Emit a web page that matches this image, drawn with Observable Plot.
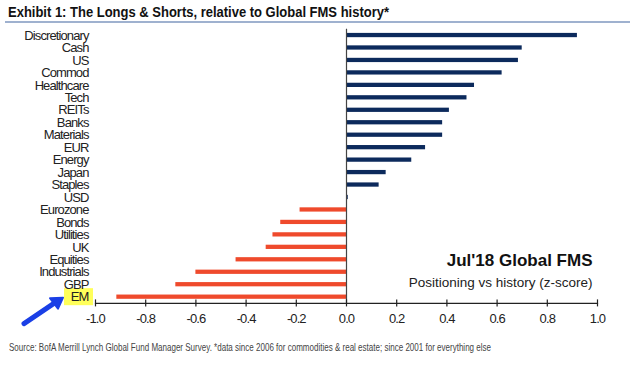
<!DOCTYPE html>
<html>
<head>
<meta charset="utf-8">
<script src="https://cdn.jsdelivr.net/npm/d3@7"></script>
<script src="https://cdn.jsdelivr.net/npm/@observablehq/plot@0.6"></script>
<style>
  html, body { margin: 0; padding: 0; background: #fff; }
  #wrap { position: relative; width: 640px; height: 370px; overflow: hidden; font-family: "Liberation Sans", Arial, sans-serif; }
  #title { position: absolute; left: 8px; top: 3px; font-weight: bold; font-size: 15px; color: #111; white-space: nowrap; transform-origin: left top; }
  #rule { position: absolute; left: 5px; top: 21px; width: 625px; height: 2px; background: #9fb1cf; }
  #caption { position: absolute; left: 9px; top: 341px; font-size: 11px; color: #444; white-space: nowrap; transform-origin: left top; }
  #chart { position: absolute; left: 0; top: 0; }
</style>
</head>
<body>
<div id="wrap">
  <div id="chart"></div>
  <div id="title">Exhibit 1:  The Longs &amp; Shorts, relative to Global FMS history*</div>
  <div id="rule"></div>
  <div id="caption">Source:  BofA Merrill Lynch Global Fund Manager Survey. *data since 2006 for commodities &amp; real estate; since 2001  for everything else</div>
</div>
<script>
const categories = ["Discretionary","Cash","US","Commod","Healthcare","Tech","REITs","Banks","Materials","EUR","Energy","Japan","Staples","USD","Eurozone","Bonds","Utilities","UK","Equities","Industrials","GBP","EM"];
const zscores = [0.92,0.70,0.685,0.62,0.51,0.48,0.41,0.383,0.383,0.315,0.26,0.158,0.13,0.007,-0.185,-0.262,-0.293,-0.32,-0.44,-0.60,-0.68,-0.915];
const xTicks = [-1.0,-0.8,-0.6,-0.4,-0.2,0.0,0.2,0.4,0.6,0.8,1.0];
const highlight = "EM";

const data = categories.map((c, i) => ({category: c, value: zscores[i]}));

const NAVY = "#0c2a5c", RED = "#ef4a2c";
const font = "Liberation Sans, Arial, sans-serif";

const plot = Plot.plot({
  width: 640,
  height: 370,
  marginTop: 28.8,
  marginBottom: 67.1,
  marginLeft: 95,
  marginRight: 43,
  style: {fontFamily: font, background: "transparent", overflow: "visible"},
  x: {domain: [-1, 1], ticks: xTicks, label: null},
  y: {domain: categories, padding: 0, round: false, label: null},
  marks: [
    Plot.barX(data, {x: "value", y: "category", fill: d => d.value >= 0 ? NAVY : RED, insetTop: 4.1, insetBottom: 4.1}),
    Plot.ruleX([0], {stroke: "#444", strokeWidth: 1.2}),
    Plot.frame({anchor: "bottom", stroke: "#222", strokeWidth: 1.2}),
    Plot.axisX({ticks: xTicks, tickSize: 7, dy: -3.5, tickFormat: () => "", stroke: "#222", strokeWidth: 1.2, label: null}),
    Plot.axisX({ticks: xTicks, tickSize: 0, tickPadding: 10, tickFormat: d => d.toFixed(1), fontSize: 13, fill: "#222", label: null}),
    Plot.axisY({tickSize: 0, tickPadding: 7, fontSize: 13, fill: "#222", label: null}),
    Plot.text(["Jul'18 Global FMS"], {frameAnchor: "bottom-right", lineAnchor: "middle", dx: -5, dy: -43, fontSize: 17, fontWeight: "bold", fill: "#111", textAnchor: "end"}),
    Plot.text(["Positioning vs history (z-score)"], {frameAnchor: "bottom-right", lineAnchor: "middle", dx: -5, dy: -21, fontSize: 13.5, fill: "#222", textAnchor: "end"})
  ]
});
document.getElementById("chart").appendChild(plot);

// condense axis label text
plot.querySelectorAll("g[aria-label='y-axis tick label'] text, g[aria-label='x-axis tick label'] text").forEach(t => t.setAttribute("letter-spacing", "-0.9"));

// highlight EM label and arrow, positioned from the y scale
const yS = plot.scale("y");
const yc = yS.apply(highlight) + yS.bandwidth / 2;
const ns = "http://www.w3.org/2000/svg";
const yLabels = plot.querySelector("g[aria-label='y-axis tick label']");
const hl = document.createElementNS(ns, "rect");
hl.setAttribute("x", 64); hl.setAttribute("y", yc - 8.5);
hl.setAttribute("width", 29); hl.setAttribute("height", 17);
hl.setAttribute("fill", "#ffff5a");
yLabels.parentNode.insertBefore(hl, yLabels);
const arrow = document.createElementNS(ns, "g");
arrow.innerHTML = `<line x1="24" y1="${yc + 27}" x2="55" y2="${yc + 6}" stroke="#1a3fe6" stroke-width="5" stroke-linecap="round"/>
<path d="M63 ${yc+1} L50 ${yc+1.5} L58 ${yc+12} Z" fill="#1a3fe6" stroke="#1a3fe6" stroke-width="2" stroke-linejoin="round"/>`;
plot.appendChild(arrow);

// fit title and caption widths
function fit(id, target) {
  const el = document.getElementById(id);
  const w = el.getBoundingClientRect().width;
  el.style.transform = `scaleX(${target / w})`;
}
fit("title", 381);
fit("caption", 482);
</script>
</body>
</html>
